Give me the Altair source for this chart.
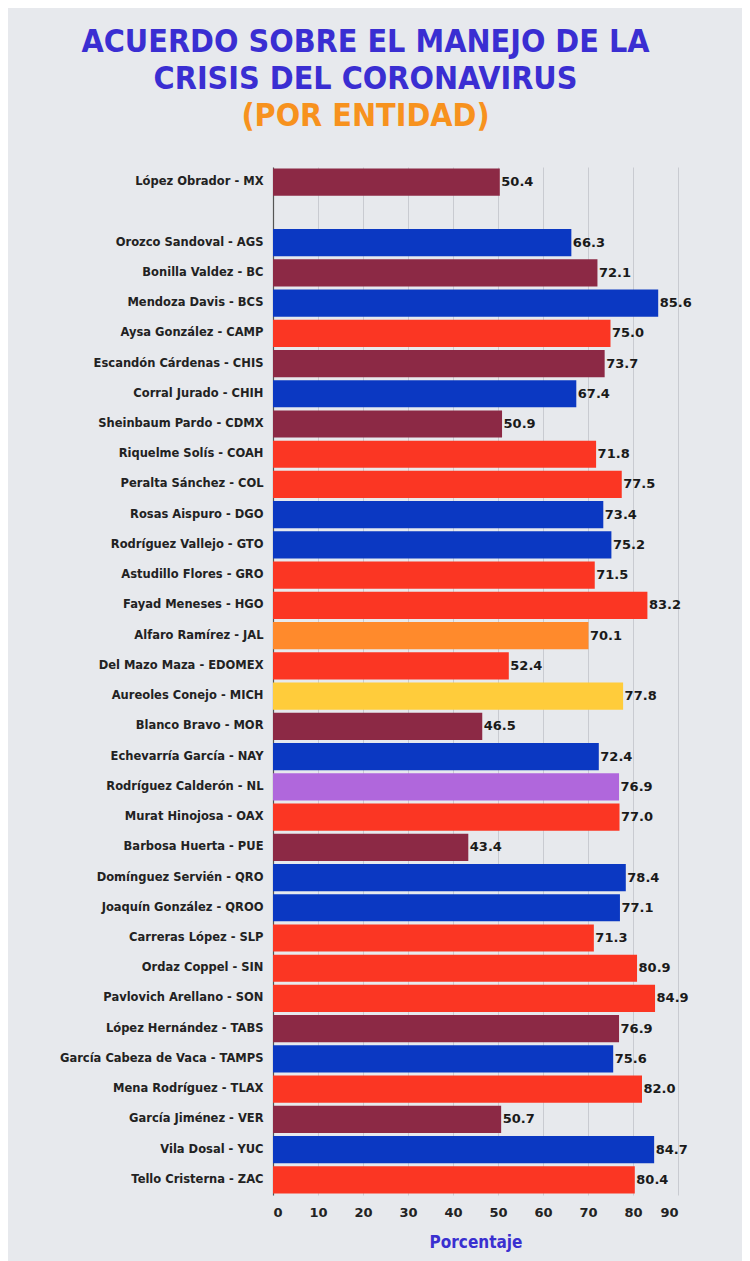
import altair as alt
import pandas as pd

names = [
    "López Obrador - MX",
    "Orozco Sandoval - AGS", "Bonilla Valdez - BC", "Mendoza Davis - BCS", "Aysa González - CAMP",
    "Escandón Cárdenas - CHIS", "Corral Jurado - CHIH", "Sheinbaum Pardo - CDMX", "Riquelme Solís - COAH",
    "Peralta Sánchez - COL", "Rosas Aispuro - DGO", "Rodríguez Vallejo - GTO", "Astudillo Flores - GRO",
    "Fayad Meneses - HGO", "Alfaro Ramírez - JAL", "Del Mazo Maza - EDOMEX", "Aureoles Conejo - MICH",
    "Blanco Bravo - MOR", "Echevarría García - NAY", "Rodríguez Calderón - NL", "Murat Hinojosa - OAX",
    "Barbosa Huerta - PUE", "Domínguez Servién - QRO", "Joaquín González - QROO", "Carreras López - SLP",
    "Ordaz Coppel - SIN", "Pavlovich Arellano - SON", "López Hernández - TABS", "García Cabeza de Vaca - TAMPS",
    "Mena Rodríguez - TLAX", "García Jiménez - VER", "Vila Dosal - YUC", "Tello Cristerna - ZAC",
]
values = [
    50.4,
    66.3, 72.1, 85.6, 75.0,
    73.7, 67.4, 50.9, 71.8,
    77.5, 73.4, 75.2, 71.5,
    83.2, 70.1, 52.4, 77.8,
    46.5, 72.4, 76.9, 77.0,
    43.4, 78.4, 77.1, 71.3,
    80.9, 84.9, 76.9, 75.6,
    82.0, 50.7, 84.7, 80.4,
]
parties = [
    "MORENA",
    "PAN", "MORENA", "PAN", "PRI",
    "MORENA", "PAN", "MORENA", "PRI",
    "PRI", "PAN", "PAN", "PRI",
    "PRI", "MC", "PRI", "PRD",
    "MORENA", "PAN", "IND", "PRI",
    "MORENA", "PAN", "PAN", "PRI",
    "PRI", "PRI", "MORENA", "PAN",
    "PRI", "MORENA", "PAN", "PRI",
]
party_names = ["MORENA", "PAN", "PRI", "MC", "PRD", "IND"]
party_colors = ["#8c2945", "#0b38c2", "#fb3623", "#ff8a2c", "#ffcc3b", "#b067dc"]
x_ticks = [0, 10, 20, 30, 40, 50, 60, 70, 80, 90]

df = pd.DataFrame({"name": names, "value": values, "party": parties})
order = [names[0], " "] + names[1:]

TITLE_FONT = "DejaVu Sans Condensed, Liberation Sans Narrow, DejaVu Sans, sans-serif"

y_enc = alt.Y(
    "name:N",
    sort=order,
    scale=alt.Scale(domain=order, paddingInner=0.1, paddingOuter=0.05),
    axis=alt.Axis(
        title=None, labelFontSize=11.5, labelFontWeight="bold", labelColor="#222222",
        labelFont="DejaVu Sans", labelPadding=10, ticks=False, domainColor="#555555",
        domainWidth=1.2, grid=False, labelLimit=300,
    ),
)
x_enc = alt.X(
    "value:Q",
    scale=alt.Scale(domain=[0, 90], nice=False),
    axis=alt.Axis(
        values=x_ticks, grid=True, gridColor="#c9cbd1", domain=False, ticks=False,
        labelFontSize=13, labelFontWeight="bold", labelColor="#222222", labelFont="DejaVu Sans",
        labelPadding=11, title="Porcentaje", titleColor="#3a30d0", titleFontSize=17,
        titleFont=TITLE_FONT, titleFontWeight="bold", titlePadding=15,
    ),
)

bars = alt.Chart(df).mark_bar().encode(
    y=y_enc,
    x=x_enc,
    color=alt.Color("party:N", scale=alt.Scale(domain=party_names, range=party_colors), legend=None),
)
labels = alt.Chart(df).mark_text(
    align="left", baseline="middle", dx=1.5, fontSize=13, fontWeight="bold",
    font="DejaVu Sans", color="#1a1a1a",
).encode(
    y=alt.Y("name:N", sort=order, scale=alt.Scale(domain=order)),
    x=alt.X("value:Q"),
    text=alt.Text("value:Q", format=".1f"),
)

chart = (bars + labels).properties(
    width=405,
    height=1028,
    autosize=alt.AutoSizeParams(type="none"),
    padding={"left": 265, "top": 159, "right": 64, "bottom": 66},
    background="#e7e9ed",
    title=alt.TitleParams(
        text=["ACUERDO SOBRE EL MANEJO DE LA", "CRISIS DEL CORONAVIRUS"],
        subtitle="(POR ENTIDAD)",
        anchor="middle",
        dx=-110,
        font=TITLE_FONT,
        fontSize=32,
        fontWeight="bold",
        color="#3a2ed2",
        lineHeight=37,
        subtitleFont=TITLE_FONT,
        subtitleFontSize=32,
        subtitleFontWeight="bold",
        subtitleColor="#f7921e",
        subtitleLineHeight=37,
        subtitlePadding=5,
        offset=34,
    ),
).configure_view(stroke=None)

chart.save("out.html", embed_options={"renderer": "svg", "actions": False})
